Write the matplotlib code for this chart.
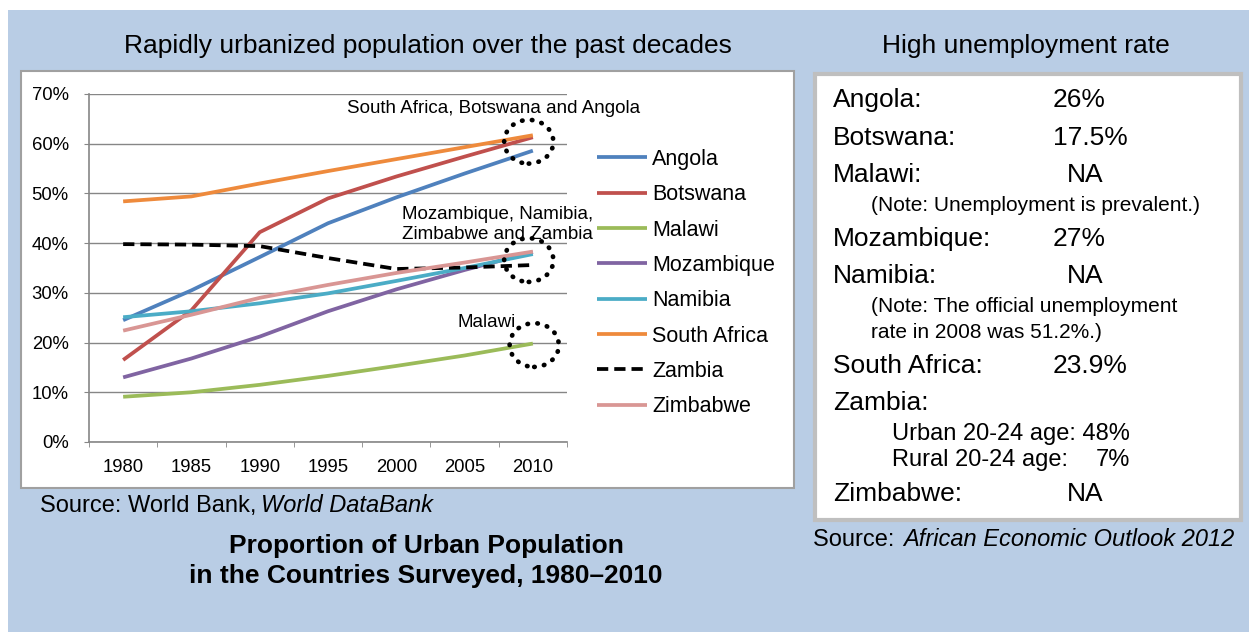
import numpy as np
import matplotlib.pyplot as plt
from matplotlib.patches import Rectangle, Ellipse

plt.rcParams['font.family'] = ['Liberation Sans', 'DejaVu Sans']

W, H = 1249, 632

years = ['1980', '1985', '1990', '1995', '2000', '2005', '2010']
angola = [24.5, 30.5, 37.2, 44.0, 49.2, 54.0, 58.6]
botswana = [16.5, 26.5, 42.2, 49.0, 53.4, 57.4, 61.3]
malawi = [9.1, 10.0, 11.5, 13.3, 15.3, 17.4, 19.8]
mozambique = [13.0, 16.8, 21.2, 26.3, 30.7, 34.6, 38.2]
namibia = [25.1, 26.3, 27.9, 29.9, 32.4, 35.0, 37.8]
south_africa = [48.4, 49.4, 52.0, 54.5, 56.9, 59.3, 61.7]
zambia = [39.8, 39.7, 39.4, 37.0, 34.8, 35.1, 35.6]
zimbabwe = [22.4, 25.6, 29.0, 31.6, 34.0, 36.1, 38.3]

series = [
    ('Angola', angola, '#4F81BD', '-'),
    ('Botswana', botswana, '#C0504D', '-'),
    ('Malawi', malawi, '#9BBB59', '-'),
    ('Mozambique', mozambique, '#8064A2', '-'),
    ('Namibia', namibia, '#4BACC6', '-'),
    ('South Africa', south_africa, '#EE8A3C', '-'),
    ('Zambia', zambia, 'black', '--'),
    ('Zimbabwe', zimbabwe, '#D99694', '-'),
]

# unemployment panel: (label, value)
unemp_rows = [
    ('Angola:', '26%'),
    ('Botswana:', '17.5%'),
    ('Malawi:', 'NA'),
    ('Mozambique:', '27%'),
    ('Namibia:', 'NA'),
    ('South Africa:', '23.9%'),
    ('Zambia:', ''),
    ('Zimbabwe:', 'NA'),
]


def fx(x):
    return x / W


def fy(y):
    return 1 - y / H


fig = plt.figure(figsize=(W / 100, H / 100), dpi=100)
fig.patch.set_facecolor('white')

# blue backdrop
fig.patches.append(Rectangle((fx(8), 0), 1 - fx(8), fy(10), transform=fig.transFigure,
                             facecolor='#B9CDE5', edgecolor='none', zorder=-3))
# white chart box
fig.patches.append(Rectangle((fx(21), fy(488)), fx(773), 417 / H, transform=fig.transFigure,
                             facecolor='white', edgecolor='#A0A0A0', linewidth=1.5, zorder=-2))
# white unemployment box
fig.patches.append(Rectangle((fx(815), fy(520)), fx(426), 446 / H, transform=fig.transFigure,
                             facecolor='white', edgecolor='#BFBFBF', linewidth=3, zorder=-2))

ax = fig.add_axes([fx(89), fy(442), fx(478), 348 / H])
ax.set_facecolor('none')
x = np.arange(len(years))
for name, vals, col, ls in series:
    if ls == '--':
        ax.plot(x, vals, color=col, linestyle=(0, (3, 1.6)), linewidth=2.7, label=name, zorder=3)
    else:
        ax.plot(x, vals, color=col, linestyle=ls, linewidth=2.7, label=name, zorder=3,
                solid_capstyle='butt')

ax.set_xlim(-0.5, 6.5)
ax.set_ylim(0, 70)
ax.set_yticks(np.arange(0, 71, 10))
ax.set_yticklabels([f'{v}%' for v in range(0, 71, 10)], fontsize=13.3)
ax.set_xticks(x)
ax.set_xticklabels(years, fontsize=13.3)
ax.set_xticks(np.arange(-0.5, 7, 1), minor=True)
ax.tick_params(axis='x', which='major', length=0, pad=12)
ax.tick_params(axis='x', which='minor', length=3.6, color='#868686', direction='out')
ax.tick_params(axis='y', length=3.6, color='#868686', pad=11)
ax.grid(axis='y', color='#868686', linewidth=1)
ax.set_axisbelow(True)
for s in ['top', 'right']:
    ax.spines[s].set_visible(False)
for s in ['left', 'bottom']:
    ax.spines[s].set_color('#868686')
    ax.spines[s].set_linewidth(1.2)

# dotted rings around the 2010 end points
for cx, cy in [(5.94, 60.4), (5.94, 36.6), (6.02, 19.5)]:
    e = Ellipse((cx, cy), 0.72, 8.8, fill=False, edgecolor='black', linewidth=3.4,
                linestyle=(0, (0.1, 2.0)), zorder=4, clip_on=False)
    e.set_capstyle('round')
    ax.add_patch(e)

ax.text(5.43, 66.2, 'South Africa, Botswana and Angola', fontsize=13.5, ha='center',
        va='baseline', clip_on=False)
ax.text(4.08, 44.8, 'Mozambique, Namibia,', fontsize=13.5, ha='left', va='baseline')
ax.text(4.08, 40.8, 'Zimbabwe and Zambia', fontsize=13.5, ha='left', va='baseline')
ax.text(5.33, 23.1, 'Malawi', fontsize=13.5, ha='center', va='baseline')

ax.legend(loc='upper left', bbox_to_anchor=(fx(597), fy(149)), bbox_transform=fig.transFigure,
          frameon=False, fontsize=15.5, handlelength=2.33, handletextpad=0.23,
          labelspacing=0.665, borderaxespad=0, borderpad=0)

fig.text(fx(428), fy(53), 'Rapidly urbanized population over the past decades', fontsize=19,
         ha='center', va='baseline')

renderer = fig.canvas.get_renderer()
src = fig.text(fx(40), fy(512), 'Source: World Bank,', fontsize=17, ha='left', va='baseline')
src_right = src.get_window_extent(renderer).x1
fig.text((src_right + 5) / W, fy(512), 'World DataBank', fontsize=17, ha='left',
         va='baseline', style='italic')
fig.text(fx(426), fy(553), 'Proportion of Urban Population', fontsize=19, ha='center',
         va='baseline', weight='bold')
fig.text(fx(426), fy(583), 'in the Countries Surveyed, 1980\u20132010', fontsize=19, ha='center',
         va='baseline', weight='bold')

# unemployment panel
fig.text(fx(1026), fy(53), 'High unemployment rate', fontsize=19, ha='center', va='baseline')
base = {'Angola:': 107, 'Botswana:': 145, 'Malawi:': 182, 'Mozambique:': 246,
        'Namibia:': 283, 'South Africa:': 373, 'Zambia:': 410, 'Zimbabwe:': 501}
for label, val in unemp_rows:
    yb = base[label]
    fig.text(fx(833), fy(yb), label, fontsize=19, ha='left', va='baseline')
    if val == 'NA':
        fig.text(fx(1067), fy(yb), val, fontsize=19, ha='left', va='baseline')
    elif val:
        fig.text(fx(1053), fy(yb), val, fontsize=19, ha='left', va='baseline')

fig.text(fx(871), fy(211), '(Note: Unemployment is prevalent.)', fontsize=15, ha='left',
         va='baseline')
fig.text(fx(871), fy(312), '(Note: The official unemployment', fontsize=15, ha='left',
         va='baseline')
fig.text(fx(871), fy(338), 'rate in 2008 was 51.2%.)', fontsize=15, ha='left', va='baseline')
fig.text(fx(892), fy(440), 'Urban 20-24 age: 48%', fontsize=17, ha='left', va='baseline')
fig.text(fx(892), fy(466), 'Rural 20-24 age:', fontsize=17, ha='left', va='baseline')
fig.text(fx(1130), fy(466), '7%', fontsize=17, ha='right', va='baseline')

fig.text(fx(813), fy(546), 'Source: ', fontsize=17, ha='left', va='baseline')
fig.text(fx(903), fy(546), 'African Economic Outlook 2012', fontsize=17, ha='left',
         va='baseline', style='italic')

fig.savefig('out.png', dpi=100, facecolor=fig.get_facecolor())
